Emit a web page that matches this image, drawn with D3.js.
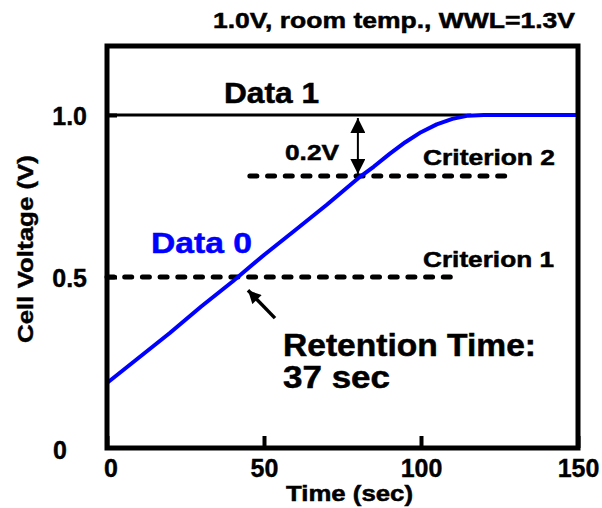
<!DOCTYPE html>
<html>
<head>
<meta charset="utf-8">
<script src="https://cdn.jsdelivr.net/npm/d3@7/dist/d3.min.js"></script>
<style>
  html, body { margin: 0; padding: 0; background: #fff; }
  svg { display: block; }
  text { font-family: "Liberation Sans", Arial, sans-serif; font-weight: bold; }
</style>
</head>
<body>
<svg id="chart" width="602" height="508"></svg>
<script>
// ---- data ----
const times = [0, 10, 20, 30, 40, 50, 60, 70, 80, 85, 90, 95, 100, 105, 110, 115, 120, 150];
const data0 = [0.173, 0.250, 0.327, 0.409, 0.486, 0.568, 0.645, 0.723, 0.805, 0.841, 0.880, 0.916, 0.947, 0.971, 0.988, 0.998, 1.0, 1.0];
const data1Times = [0, 116];
const data1 = [1.0, 1.0];
const criterion1Times = [0, 111.8];
const criterion1 = [0.5, 0.5];
const criterion2Times = [45.5, 127.4];
const criterion2 = [0.812, 0.812];
const xTicks = [0, 50, 100, 150];
const xTickLabels = ["0", "50", "100", "150"];
const yTicks = [0, 0.5, 1.0];
const yTickLabels = ["0", "0.5", "1.0"];
// annotation arrows (data coords)
const marginArrow = { t: 79.9, from: 1.0, to: 0.812 };
const retentionArrow = { tailT: 53.5, tailV: 0.373, tipT: 44.9, tipV: 0.459 };

const svg = d3.select("#chart");
const x = d3.scaleLinear().domain([0, 150]).range([107, 578]);
const y = d3.scaleLinear().domain([-0.0278, 1.213]).range([448, 46]);
const yMin = -0.0278, yMax = 1.213;

const line = d3.line().x(d => x(d[0])).y(d => y(d[1]));

// criterion dashed lines
[[criterion1Times, criterion1], [criterion2Times, criterion2]].forEach(([ts, vs]) => {
  svg.append("path")
    .attr("d", line(ts.map((t, i) => [t, vs[i]])))
    .attr("fill", "none").attr("stroke", "#000")
    .attr("stroke-width", 5).attr("stroke-linecap", "round")
    .attr("stroke-dasharray", "7,10.7");
});

// Data 1 line
svg.append("path")
  .attr("d", line(data1Times.map((t, i) => [t, data1[i]])))
  .attr("fill", "none").attr("stroke", "#000").attr("stroke-width", 3);

// Data 0 curve
svg.append("path")
  .attr("d", line(times.map((t, i) => [t, data0[i]])))
  .attr("fill", "none").attr("stroke", "#0000ff").attr("stroke-width", 4)
  .attr("stroke-linejoin", "round");

// axes
const gx = svg.append("g").attr("transform", "translate(0,448)")
  .call(d3.axisBottom(x).tickValues(xTicks).tickSize(-12).tickFormat((d, i) => xTickLabels[i]));
const gy = svg.append("g").attr("transform", "translate(107,0)")
  .call(d3.axisLeft(y).tickValues(yTicks).tickSize(-10).tickFormat((d, i) => yTickLabels[i]));
[gx, gy].forEach(g => {
  g.select(".domain").remove();
  g.selectAll(".tick line").attr("stroke", "#000").attr("stroke-width", 4);
  g.selectAll(".tick text").attr("fill", "#000").attr("font-size", 25)
    .attr("stroke", "#000").attr("stroke-width", 0.4)
    .attr("font-family", "'Liberation Sans', Arial, sans-serif").attr("font-weight", "bold");
});
gx.selectAll(".tick text").attr("y", 19.5).attr("dy", "0.36em")
  .attr("x", d => d === 0 ? 3.5 : 0);
gy.selectAll(".tick text").attr("x", -20).attr("dy", "0.36em")
  .attr("text-anchor", "end");
gy.selectAll(".tick").filter(d => d === 0).select("text")
  .attr("x", -47).attr("text-anchor", "middle").attr("y", 11);
gy.selectAll(".tick").filter(d => d === 0).select("line").remove();

// frame
svg.append("rect")
  .attr("x", x(0)).attr("y", y(yMax))
  .attr("width", x(150) - x(0)).attr("height", y(yMin) - y(yMax))
  .attr("fill", "none").attr("stroke", "#000").attr("stroke-width", 5);

// arrow markers
const defs = svg.append("defs");
defs.append("marker").attr("id", "head").attr("viewBox", "0 0 10 10")
  .attr("refX", 10).attr("refY", 5).attr("markerUnits", "userSpaceOnUse")
  .attr("markerWidth", 19).attr("markerHeight", 15).attr("orient", "auto-start-reverse")
  .append("path").attr("d", "M0,0 L10,5 L0,10 Z").attr("fill", "#000");
defs.append("marker").attr("id", "head2").attr("viewBox", "0 0 10 10")
  .attr("refX", 10).attr("refY", 5).attr("markerUnits", "userSpaceOnUse")
  .attr("markerWidth", 15).attr("markerHeight", 13).attr("orient", "auto")
  .append("path").attr("d", "M0,0 L10,5 L0,10 Z").attr("fill", "#000");

// 0.2V double arrow
svg.append("line")
  .attr("x1", x(marginArrow.t)).attr("x2", x(marginArrow.t))
  .attr("y1", y(marginArrow.from) + 3).attr("y2", y(marginArrow.to) - 2)
  .attr("stroke", "#000").attr("stroke-width", 2)
  .attr("marker-start", "url(#head)").attr("marker-end", "url(#head)");

// retention arrow
svg.append("line")
  .attr("x1", x(retentionArrow.tailT)).attr("y1", y(retentionArrow.tailV))
  .attr("x2", x(retentionArrow.tipT)).attr("y2", y(retentionArrow.tipV))
  .attr("stroke", "#000").attr("stroke-width", 3.5)
  .attr("marker-end", "url(#head2)");

// texts
function txt(s, px, py, size, len, fill) {
  return svg.append("text").attr("x", px).attr("y", py).attr("font-size", size)
    .attr("fill", fill || "#000").attr("stroke", fill || "#000").attr("stroke-width", 0.5)
    .attr("textLength", len)
    .attr("lengthAdjust", "spacingAndGlyphs").text(s);
}
txt("1.0V, room temp., WWL=1.3V", 213, 28, 22, 362);
txt("Data 1", 224, 103, 29, 95);
txt("Data 0", 151, 253, 29, 101, "#0000ff");
txt("0.2V", 285, 160, 22, 54);
txt("Criterion 2", 423, 165, 22, 132);
txt("Criterion 1", 423, 267, 22, 131);
txt("Retention Time:", 283, 356, 31, 253);
txt("37 sec", 283, 388, 31, 107);
txt("Time (sec)", 286, 501, 22, 127);
svg.append("text").attr("transform", "translate(33,249) rotate(-90)")
  .attr("text-anchor", "middle").attr("font-size", 22)
  .attr("stroke", "#000").attr("stroke-width", 0.4)
  .attr("textLength", 188).attr("lengthAdjust", "spacingAndGlyphs")
  .text("Cell Voltage (V)");
</script>
</body>
</html>
